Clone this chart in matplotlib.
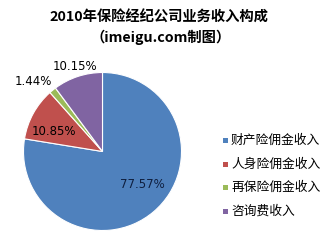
import matplotlib
matplotlib.use("Agg")
import matplotlib.pyplot as plt
from matplotlib.patches import Rectangle

plt.rcParams['font.family'] = ['Noto Sans CJK SC', 'DejaVu Sans']

categories = ['财产险佣金收入', '人身险佣金收入', '再保险佣金收入', '咨询费收入']
values = [77.57, 10.85, 1.44, 10.15]
labels = ['77.57%', '10.85%', '1.44%', '10.15%']
colors = ['#4F81BD', '#C0504D', '#9BBB59', '#8064A2']
title_lines = ['2010年保险经纪公司业务收入构成', '（imeigu.com制图）']

W, H = 331, 242
fig = plt.figure(figsize=(W / 100, H / 100), dpi=100)
fig.patch.set_facecolor('white')

cx, cy, r = 102.5, 151.5, 79
ax = fig.add_axes([(cx - r) / W, (H - cy - r) / H, 2 * r / W, 2 * r / H])
wedges, _ = ax.pie(values, colors=colors, startangle=90, counterclock=False,
                   wedgeprops=dict(edgecolor='white', linewidth=0.8))
ax.set_aspect('equal')
ax.set_xlim(-1, 1)
ax.set_ylim(-1, 1)
ax.axis('off')

label_pos = [(0.50, -0.42), (-0.61, 0.25), (-0.88, 0.88), (-0.35, 1.08)]
label_colors = ['#0F1F3F', 'black', 'black', 'black']
for (x, y), t, lc in zip(label_pos, labels, label_colors):
    ax.text(x, y, t, ha='center', va='center', fontsize=8.5, color=lc,
            family=['DejaVu Sans'], clip_on=False)

fig.text(158.5 / W, 1 - 18 / H, title_lines[0], ha='center', va='center',
         fontsize=10.3, fontweight='bold')
fig.text(161 / W, 1 - 37 / H, title_lines[1], ha='center', va='center',
         fontsize=10.3, fontweight='bold')

ys = [140.5, 164, 187.5, 211]
for yy, c, name in zip(ys, colors, categories):
    fig.patches.append(Rectangle((222.5 / W, 1 - (yy + 2.5) / H), 5 / W, 5 / H,
                                 facecolor=c, edgecolor='none',
                                 transform=fig.transFigure))
    fig.text(231 / W, 1 - yy / H, name, ha='left', va='center', fontsize=9.2)

fig.savefig('out.png', dpi=100, facecolor='white')
